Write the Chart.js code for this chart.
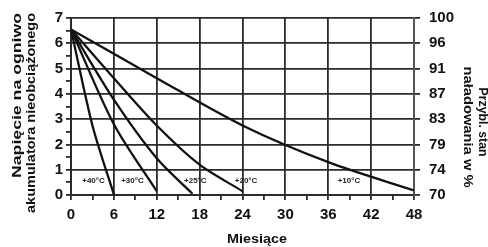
<!DOCTYPE html>
<html lang="pl">
<head>
<meta charset="UTF-8">
<script src="https://cdn.jsdelivr.net/npm/chart.js"></script>
<title>Napięcie akumulatora nieobciążonego</title>
<style>
    body { margin: 0; background: #fff; }
    #wrap { width: 488px; height: 247px; }
</style>
</head>
<body>
<div id="wrap"><canvas id="myChart" width="488" height="247"></canvas></div>

<script>
    // krzywe rozładowania (miesiące / napięcie na ogniwo)
    const months40 = [0, 3, 6];
    const volts40 = [6.55, 2.75, 0.02];

    const months30 = [0, 6, 12];
    const volts30 = [6.55, 2.8, 0.15];

    const months25 = [0, 6, 12, 17];
    const volts25 = [6.55, 3.77, 1.45, 0.05];

    const months20 = [0, 6, 12, 18, 24];
    const volts20 = [6.55, 4.62, 2.75, 1.2, 0.15];

    const months10 = [0, 12, 24, 36, 48];
    const volts10 = [6.55, 4.62, 2.75, 1.3, 0.18];

    const chargeLabels = ['70', '74', '79', '83', '87', '91', '96', '100'];

    const curveNames = ['+40°C', '+30°C', '+25°C', '+20°C', '+10°C'];
    const curveNameMonths = [3.15, 8.6, 17.4, 24.5, 38.9];
    const curveNameVolt = 0.55;

    const FONT = "'Liberation Sans', Arial, sans-serif";
    const GRID = '#2b2b2b';

    const toPoints = (ms, vs) => ms.map((m, i) => ({ x: m, y: vs[i] }));

    const lineStyle = {
        borderColor: '#111',
        borderWidth: 2.3,
        pointRadius: 0,
        fill: false,
        tension: 0.3,
    };

    const data = {
        datasets: [
            { label: curveNames[0], data: toPoints(months40, volts40), ...lineStyle },
            { label: curveNames[1], data: toPoints(months30, volts30), ...lineStyle },
            { label: curveNames[2], data: toPoints(months25, volts25), ...lineStyle },
            { label: curveNames[3], data: toPoints(months20, volts20), ...lineStyle },
            { label: curveNames[4], data: toPoints(months10, volts10), ...lineStyle },
        ]
    };

    function drawText(ctx, text, cx, cy, len, angle, font) {
        ctx.save();
        ctx.font = font;
        const w = ctx.measureText(text).width;
        ctx.translate(cx, cy);
        ctx.rotate(angle);
        ctx.scale(len / w, 1);
        ctx.textAlign = 'center';
        ctx.textBaseline = 'middle';
        ctx.fillStyle = '#111';
        ctx.fillText(text, 0, 0);
        ctx.restore();
    }

    // opisy osi i temperatur
    const labelsPlugin = {
        id: 'labels',
        afterDraw(chart) {
            const ctx = chart.ctx;
            const x = chart.scales.x;
            const y = chart.scales.y;

            ctx.save();
            ctx.font = 'bold 8px ' + FONT;
            ctx.fillStyle = '#222';
            ctx.textAlign = 'center';
            ctx.textBaseline = 'middle';
            curveNames.forEach((name, i) => {
                ctx.fillText(name, x.getPixelForValue(curveNameMonths[i]), y.getPixelForValue(curveNameVolt));
            });
            ctx.restore();

            drawText(ctx, 'Napięcie na ogniwo', 17.5, 95.5, 165, -Math.PI / 2, 'bold 12px ' + FONT);
            drawText(ctx, 'akumulatora nieobciążonego', 32, 113, 200, -Math.PI / 2, 'bold 12px ' + FONT);
            drawText(ctx, 'Przybl. stan', 482, 122, 69, Math.PI / 2, 'bold 12px ' + FONT);
            drawText(ctx, 'naładowania w %', 467, 127, 121, Math.PI / 2, 'bold 12px ' + FONT);
            drawText(ctx, 'Miesiące', 257, 239, 60, 0, 'bold 13px ' + FONT);
        }
    };

    const config = {
        type: 'line',
        data: data,
        options: {
            responsive: false,
            animation: false,
            layout: { padding: { top: 15, left: 0, right: 0, bottom: 0 } },
            plugins: {
                legend: { display: false },
                tooltip: { enabled: false },
            },
            scales: {
                x: {
                    type: 'linear',
                    min: 0,
                    max: 48,
                    ticks: {
                        stepSize: 3,
                        autoSkip: false,
                        maxRotation: 0,
                        padding: 6,
                        color: '#111',
                        font: { family: FONT, size: 15, weight: 'bold' },
                        callback: v => (v % 6 === 0 ? v : ''),
                    },
                    grid: {
                        color: c => (c.tick && c.tick.value % 6 === 0 ? GRID : 'rgba(0,0,0,0)'),
                        lineWidth: 1.8,
                        tickColor: GRID,
                        tickLength: 5,
                    },
                    border: { display: true, color: GRID, width: 2 },
                    afterFit: s => { s.height = 52; },
                },
                y: {
                    position: 'left',
                    min: 0,
                    max: 7,
                    ticks: {
                        stepSize: 0.5,
                        autoSkip: false,
                        padding: 3,
                        color: '#111',
                        font: { family: FONT, size: 15, weight: 'bold' },
                        callback: v => (Number.isInteger(v) ? v : ''),
                    },
                    grid: {
                        color: c => (c.tick && Number.isInteger(c.tick.value) ? GRID : 'rgba(0,0,0,0)'),
                        lineWidth: 1.8,
                        tickColor: GRID,
                        tickLength: 5,
                    },
                    border: { display: true, color: GRID, width: 2 },
                    afterFit: s => { s.width = 71; },
                },
                y2: {
                    position: 'right',
                    min: 0,
                    max: 7,
                    ticks: {
                        stepSize: 1,
                        padding: 9,
                        color: '#111',
                        font: { family: FONT, size: 15, weight: 'bold' },
                        callback: v => chargeLabels[v],
                    },
                    grid: {
                        drawOnChartArea: false,
                        tickColor: GRID,
                        tickLength: 6,
                        lineWidth: 1.8,
                    },
                    border: { display: true, color: '#555', width: 1.5 },
                    afterFit: s => { s.width = 74; },
                },
            },
        },
        plugins: [labelsPlugin],
    };

    const myChart = new Chart(document.getElementById('myChart'), config);
</script>
</body>
</html>
